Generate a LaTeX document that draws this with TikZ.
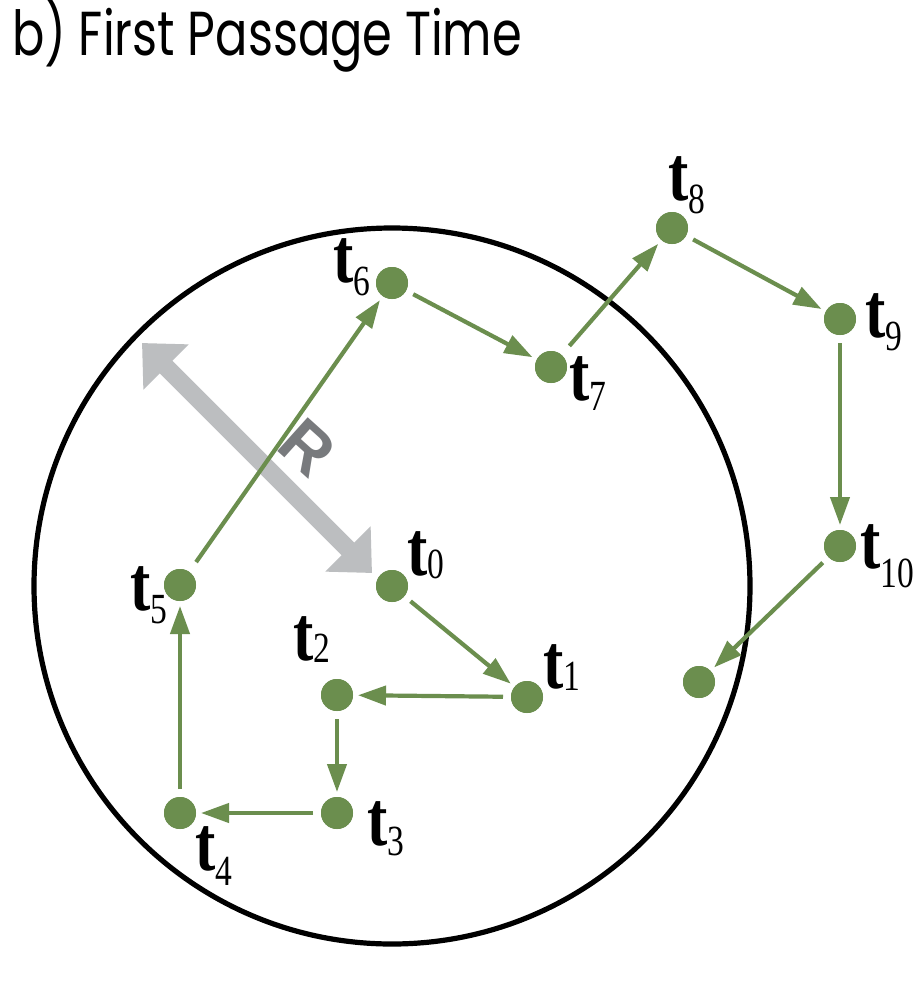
\documentclass[tikz,border=0pt]{standalone}
\usepackage{fontspec}
\usetikzlibrary{arrows.meta}
\setmainfont{Liberation Serif}
\newfontfamily\titlefont{Poppins}
\newfontfamily\lblfont{Liberation Serif}
\newfontfamily\rfont{Liberation Sans}
\definecolor{dotgreen}{RGB}{107,142,78}
\definecolor{rgray}{RGB}{188,190,192}
\definecolor{rtext}{RGB}{120,122,125}
\newcommand{\tlab}[2]{\scalebox{0.78}[1]{{\lblfont\fontsize{78}{78}\selectfont\bfseries t}\raisebox{-#2pt}{\lblfont\fontsize{43}{43}\selectfont #1}}}
\begin{document}
\begin{tikzpicture}[x=1pt,y=-1pt,
  dot/.style={circle,fill=dotgreen,minimum size=32pt,inner sep=0pt,outer sep=0pt},
  walk/.style={draw=dotgreen,line width=4.2pt,shorten <=8pt,shorten >=5pt,-{Triangle[length=28pt,width=19pt]}},
  lab/.style={anchor=base west,inner sep=0pt,outer sep=0pt},
  boundary/.style={draw=black,line width=5.2pt},
  rarrow/.style={draw=rgray,line width=18pt,{Triangle[length=34pt,width=62pt]}-{Triangle[length=34pt,width=62pt]}}]
\useasboundingbox (0,0) rectangle (916,1005);
\fill[white] (0,0) rectangle (916,1005);
% title
\node[lab] (title) at (12,55) {\resizebox{510pt}{58pt}{\titlefont\fontsize{60}{60}\selectfont b) First Passage Time}};
% dots
\node[dot] (t0) at (392,586) {};
\node[dot] (t1) at (527,697) {};
\node[dot] (t2) at (337,695) {};
\node[dot] (t3) at (337,813) {};
\node[dot] (t4) at (180,813) {};
\node[dot] (t5) at (180,585) {};
\node[dot] (t6) at (392,283) {};
\node[dot] (t7) at (551,367) {};
\node[dot] (t8) at (672,228) {};
\node[dot] (t9) at (840,319) {};
\node[dot] (t10) at (840,546) {};
\node[dot] (t11) at (699,682) {};
% boundary circle
\draw[boundary] (t0.center) circle[radius=358pt];
% radius arrow
\coordinate (Ra) at (142,343);
\coordinate (Rb) at (372,573);
\draw[rarrow] (Ra) -- (Rb);
\node[rotate=-42,text=rtext,inner sep=0pt] (R) at (307,448) {\rfont\fontsize{66}{66}\selectfont\bfseries R};
% walk
\draw[walk] (t0) -- (t1);
\draw[walk] (t1) -- (t2);
\draw[walk] (t2) -- (t3);
\draw[walk] (t3) -- (t4);
\draw[walk] (t4) -- (t5);
\draw[walk,shorten <=12pt] (t5) -- (t6);
\draw[walk] (t6) -- (t7);
\draw[walk,shorten <=12pt] (t7) -- (t8);
\draw[walk] (t8) -- (t9);
\draw[walk] (t9) -- (t10);
\draw[walk] (t10) -- (t11);
% redraw dots on top
\foreach \n in {t0,t1,t2,t3,t4,t5,t6,t7,t8,t9,t10,t11} {\fill[dotgreen] (\n.center) circle[radius=16pt];}
% labels
\node[lab] (l0) at (407,575) {\tlab{0}{3}};
\node[lab] (l1) at (543,688) {\tlab{1}{2}};
\node[lab] (l2) at (293,660) {\tlab{2}{2}};
\node[lab] (l3) at (367,845) {\tlab{3}{10}};
\node[lab] (l4) at (195,870) {\tlab{4}{15}};
\node[lab] (l5) at (130,610) {\tlab{5}{13}};
\node[lab] (l6) at (333,282) {\tlab{6}{13}};
\node[lab] (l7) at (569,400) {\tlab{7}{10}};
\node[lab] (l8) at (668,200) {\tlab{8}{13}};
\node[lab] (l9) at (865,337) {\tlab{9}{13}};
\node[lab] (l10) at (860,568) {\tlab{10}{19}};
\end{tikzpicture}
\end{document}
